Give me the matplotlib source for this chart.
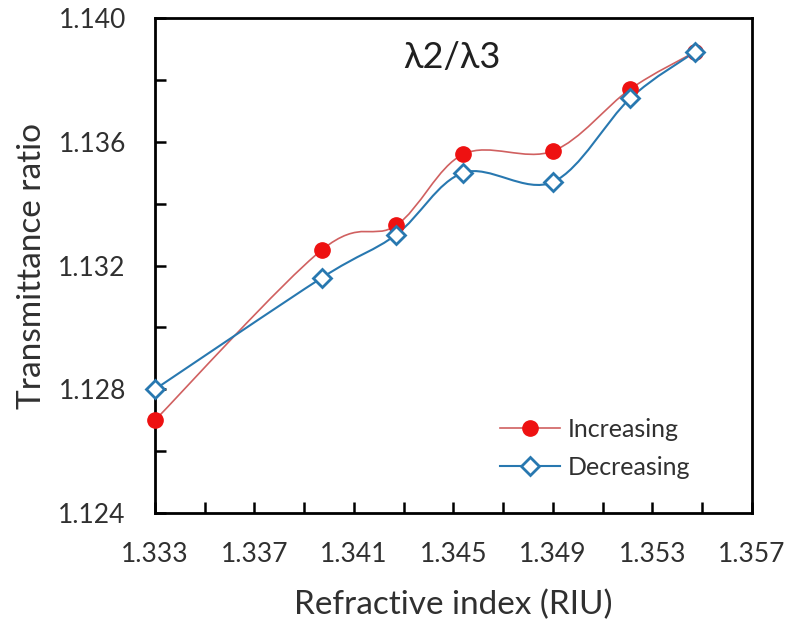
import matplotlib
matplotlib.use("Agg")
import matplotlib.pyplot as plt
from matplotlib.path import Path
from matplotlib.patches import PathPatch
from matplotlib.lines import Line2D
import numpy as np

plt.rcParams['font.family'] = ['Lato', 'DejaVu Sans']

# data
ri = [1.3330, 1.3397, 1.3427, 1.3454, 1.3490, 1.3521, 1.3547]
increasing = [1.1270, 1.1325, 1.1333, 1.1356, 1.1357, 1.1377, 1.1389]
decreasing = [1.1280, 1.1316, 1.1330, 1.1350, 1.1347, 1.1374, 1.1389]

xticks = [1.333, 1.337, 1.341, 1.345, 1.349, 1.353, 1.357]
xminor = [1.335, 1.339, 1.343, 1.347, 1.351, 1.355]
yticks = [1.124, 1.128, 1.132, 1.136, 1.140]
yminor = [1.126, 1.130, 1.134, 1.138]

red_line = '#d06060'
red_mark = '#ee1111'
blue = '#2878b0'
txt = '#303030'


def smooth_path(x, y):
    # Excel-style smoothed line: cubic bezier through the points
    pts = np.column_stack([x, y])
    verts = [pts[0]]
    codes = [Path.MOVETO]
    n = len(pts)
    for i in range(n - 1):
        p0 = pts[max(i - 1, 0)]
        p1 = pts[i]
        p2 = pts[i + 1]
        p3 = pts[min(i + 2, n - 1)]
        c1 = p1 + (p2 - p0) / 6
        c2 = p2 - (p3 - p1) / 6
        verts += [c1, c2, p2]
        codes += [Path.CURVE4] * 3
    return Path(verts, codes)


fig = plt.figure(figsize=(7.88, 6.29), dpi=100)
ax = fig.add_axes([0.1967, 0.1844, 0.7576, 0.787])

ax.add_patch(PathPatch(smooth_path(ri, increasing), fill=False,
                       edgecolor=red_line, lw=1.2, zorder=2))
ax.add_patch(PathPatch(smooth_path(ri, decreasing), fill=False,
                       edgecolor=blue, lw=1.5, zorder=2))
ax.plot(ri, increasing, 'o', color=red_mark, ms=11, zorder=3, clip_on=False)
ax.plot(ri, decreasing, 'D', mfc='white', mec=blue, mew=2, ms=9, zorder=4,
        clip_on=False)

ax.set_xlim(1.333, 1.357)
ax.set_ylim(1.124, 1.140)
ax.set_xticks(xticks)
ax.set_xticks(xminor, minor=True)
ax.set_yticks(yticks)
ax.set_yticks(yminor, minor=True)
ax.set_xticklabels(['%.3f' % v for v in xticks])
ax.set_yticklabels(['%.3f' % v for v in yticks])

ax.tick_params(which='both', direction='in', width=1.8, length=8,
               labelsize=19, color='black', labelcolor=txt)
ax.tick_params(axis='x', which='both', top=False, pad=21)
ax.tick_params(axis='y', which='both', right=False, pad=21)
for s in ax.spines.values():
    s.set_linewidth(2)

ax.set_xlabel('Refractive index (RIU)', fontsize=24, color=txt, labelpad=16)
ax.set_ylabel('Transmittance ratio', fontsize=24, color=txt, labelpad=8)

ax.text(0.497, 0.92, 'λ2/λ3', transform=ax.transAxes, fontsize=26,
        ha='center', va='center', color='#202020')

handles = [
    Line2D([], [], color=red_line, lw=1.2, marker='o', mfc=red_mark,
           mec=red_mark, ms=11),
    Line2D([], [], color=blue, lw=1.5, marker='D', mfc='white', mec=blue,
           mew=2, ms=9),
]
leg = ax.legend(handles, ['Increasing', 'Decreasing'], loc='upper left',
                bbox_to_anchor=(0.578, 0.192), frameon=False, fontsize=18,
                handlelength=2.4, handletextpad=0.3, labelspacing=0.6,
                borderpad=0, borderaxespad=0)
for t in leg.get_texts():
    t.set_color(txt)

fig.savefig('out.png', dpi=100)
